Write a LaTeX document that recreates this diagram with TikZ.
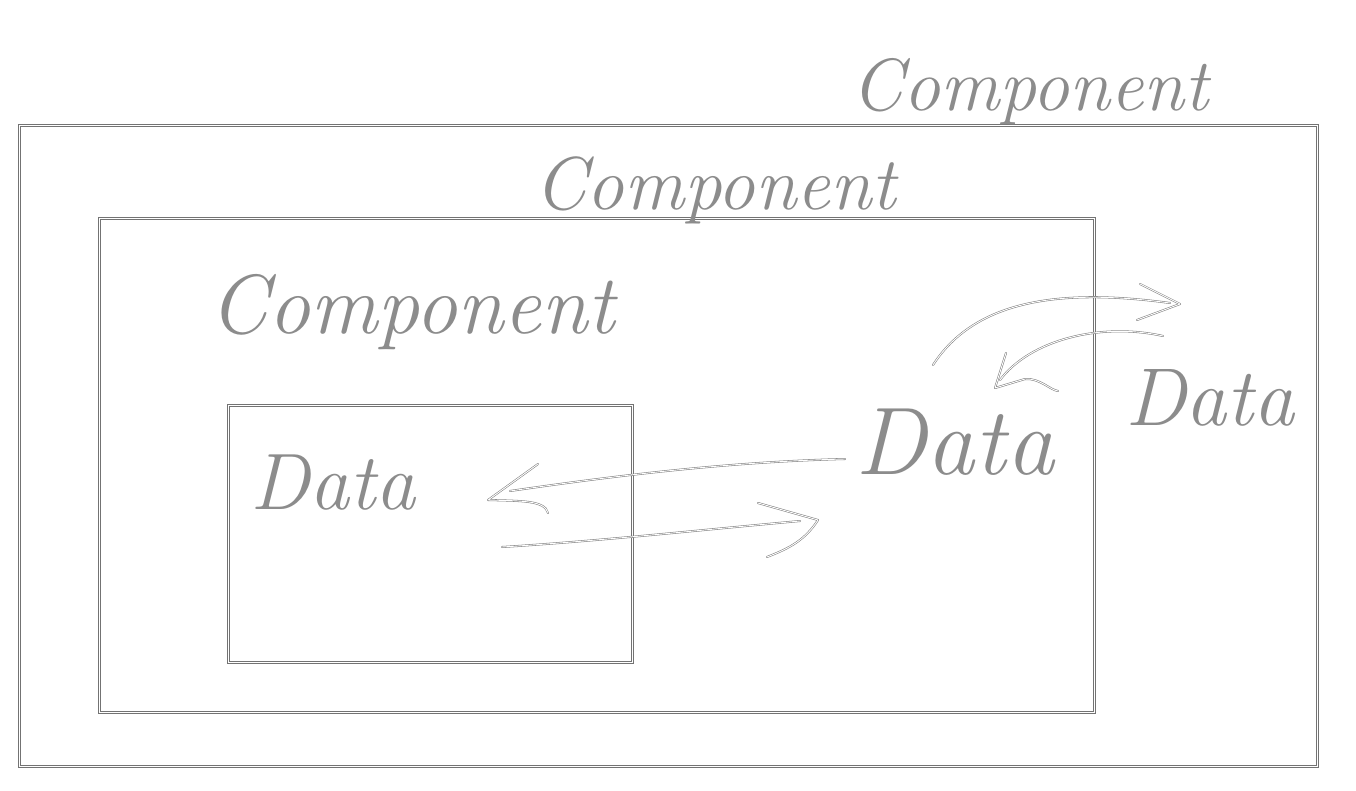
\documentclass[tikz,border=0pt]{standalone}
\usepackage{fontspec}
\begin{document}
\begin{tikzpicture}[x=1pt,y=-1pt,
  boxline/.style={draw=black!55, line width=3pt},
  boxcore/.style={draw=white, line width=1pt},
  ink/.style={draw=black!50, double=white, double distance=0.9pt, line width=0.55pt, line join=round, line cap=round},
  hand/.style={text=black!45, inner sep=0pt}
]
\fill[white] (0,0) rectangle (1356,790);
\useasboundingbox (0,0) rectangle (1356,790);
% boxes
\coordinate (outerNW) at (19,125);
\coordinate (outerSE) at (1317,766);
\coordinate (middleNW) at (99,218);
\coordinate (middleSE) at (1094,712);
\coordinate (innerNW) at (228,405);
\coordinate (innerSE) at (632,662);
\draw[boxline] (outerNW) rectangle (outerSE);
\draw[boxline] (middleNW) rectangle (middleSE);
\draw[boxline] (innerNW) rectangle (innerSE);
\draw[boxcore] (outerNW) rectangle (outerSE);
\draw[boxcore] (middleNW) rectangle (middleSE);
\draw[boxcore] (innerNW) rectangle (innerSE);
% labels
\node[hand, font=\itshape\fontsize{74}{80}\selectfont] (comp1) at (1030,92) {Component};
\node[hand, font=\itshape\fontsize{75}{80}\selectfont] (comp2) at (715,190) {Component};
\node[hand, font=\itshape\fontsize{84}{90}\selectfont] (comp3) at (412,312) {Component};
\node[hand, font=\itshape\fontsize{80}{90}\selectfont] (data1) at (333,483) {Data};
\node[hand, font=\itshape\fontsize{96}{100}\selectfont] (data2) at (955,442) {Data};
\node[hand, font=\itshape\fontsize{82}{90}\selectfont] (data3) at (1210,398) {Data};
% arrow ends
\coordinate (a1s) at (845,459);
\coordinate (a1e) at (510,491);
\coordinate (a1t) at (488,500);
\coordinate (a2s) at (502,547);
\coordinate (a2e) at (800,521);
\coordinate (a2t) at (818,520);
\coordinate (a3s) at (933,365);
\coordinate (a3e) at (1170,303);
\coordinate (a3t) at (1180,304);
\coordinate (a4s) at (1163,336);
\coordinate (a4e) at (1000,380);
\coordinate (a4t) at (995,388);
% arrows data2 -> data1
\draw[ink] (a1s) .. controls (720,462) and (600,478) .. (a1e);
\draw[ink] (538,464) -- (a1t) .. controls (520,501) and (545,500) .. (548,513);
\draw[ink] (a2s) .. controls (600,541) and (700,530) .. (a2e);
\draw[ink] (758,503) -- (a2t) .. controls (805,540) and (790,548) .. (767,557);
% arrows data2 <-> data3
\draw[ink] (a3s) .. controls (975,300) and (1060,288) .. (a3e);
\draw[ink] (1140,284) -- (a3t) -- (1137,320);
\draw[ink] (a4s) .. controls (1100,322) and (1030,340) .. (a4e);
\draw[ink] (1006,353) -- (a4t) -- (1025,379) .. controls (1040,378) and (1050,390) .. (1058,391);
\end{tikzpicture}
\end{document}
